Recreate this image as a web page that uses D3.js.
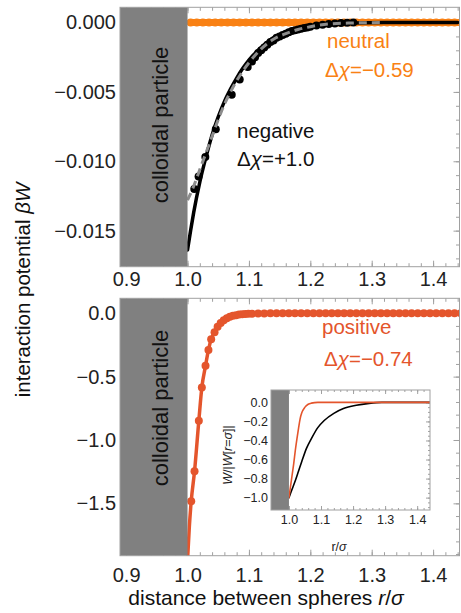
<!DOCTYPE html>
<html>
<head>
<meta charset="utf-8">
<script src="https://cdn.jsdelivr.net/npm/d3@7"></script>
<style>
    body { margin: 0; background: #fff; }
    svg { font-family: "Liberation Sans", Arial, sans-serif; }
</style>
</head>
<body>
<svg id="chart" width="461" height="613"></svg>
<script>
// ---- data ----
const xTicks = [0.9, 1.0, 1.1, 1.2, 1.3, 1.4];
const topYTicks = [0, -0.005, -0.010, -0.015];
const bottomYTicks = [0, -0.5, -1.0, -1.5];
const insetXTicks = [1.0, 1.1, 1.2, 1.3, 1.4];
const insetYTicks = [0, -0.2, -0.4, -0.6, -0.8, -1.0];

// neutral (top, orange dots)
const neutralR = [1.005, 1.015, 1.025, 1.035, 1.045, 1.055, 1.065, 1.075, 1.085, 1.095,
    1.105, 1.115, 1.125, 1.135, 1.145, 1.155, 1.165, 1.175, 1.185, 1.195,
    1.205, 1.215, 1.225, 1.235, 1.245, 1.255, 1.265, 1.275, 1.285, 1.295,
    1.305, 1.315, 1.325, 1.335, 1.345, 1.355, 1.365, 1.375, 1.385, 1.395,
    1.405, 1.415, 1.425, 1.435, 1.445];
const neutralW = [0, 0, 0, 0, 0, 0, 0, 0, 0, 0,
    0, 0, 0, 0, 0, 0, 0, 0, 0, 0,
    0, 0, 0, 0, 0, 0, 0, 0, 0, 0,
    0, 0, 0, 0, 0, 0, 0, 0, 0, 0,
    0, 0, 0, 0, 0];

// negative (top, black): theory line, gray dashed line, simulation dots
const negLineR = [1.0, 1.005, 1.01, 1.02, 1.03, 1.04, 1.05, 1.06, 1.07, 1.08, 1.09, 1.10,
    1.12, 1.14, 1.16, 1.18, 1.20, 1.23, 1.27, 1.32, 1.44];
const negLineW = [-0.0164, -0.0150, -0.0137, -0.0115, -0.0097, -0.0081, -0.0068, -0.0057,
    -0.0048, -0.0040, -0.0033, -0.0027, -0.0018, -0.0011, -0.0007, -0.0004, -0.00025,
    -0.0001, -0.00003, 0, 0];
const negDashR = [1.0, 1.01, 1.02, 1.03, 1.04, 1.05, 1.06, 1.07, 1.08, 1.09, 1.10,
    1.12, 1.14, 1.16, 1.18, 1.20, 1.23, 1.27, 1.32];
const negDashW = [-0.0128, -0.0118, -0.0106, -0.0094, -0.0082, -0.0070, -0.0059, -0.0050,
    -0.0042, -0.0035, -0.0029, -0.0019, -0.0012, -0.0008, -0.0005, -0.0003, -0.0001,
    -0.00003, 0];
const negDotR = [1.011, 1.018, 1.029, 1.046, 1.072, 1.085, 1.098, 1.105, 1.11, 1.115,
    1.12, 1.125, 1.13, 1.135, 1.14, 1.145, 1.15, 1.155, 1.16, 1.165,
    1.17, 1.175, 1.18, 1.185, 1.19, 1.195, 1.20, 1.21, 1.22, 1.23,
    1.24, 1.25, 1.26, 1.27];
const negDotW = [-0.0120, -0.0111, -0.0097, -0.0077, -0.0052, -0.0041, -0.0032, -0.0028,
    -0.0025, -0.0022, -0.0020, -0.0018, -0.0016, -0.0014, -0.0013, -0.0011, -0.0010,
    -0.0009, -0.0008, -0.0007, -0.0006, -0.00055, -0.0005, -0.00045, -0.0004, -0.00035,
    -0.0003, -0.00022, -0.00015, -0.0001, -0.00006, -0.00003, -0.00001, 0];

// positive (bottom, red): line and dots
const posLineR = [1.0, 1.003, 1.006, 1.0114, 1.0184, 1.0233, 1.0293, 1.0341, 1.0385, 1.044,
    1.05, 1.06, 1.07, 1.08, 1.10, 1.12, 1.15, 1.445];
const posLineW = [-1.95, -1.68, -1.483, -1.247, -0.848, -0.586, -0.415, -0.289, -0.205, -0.150,
    -0.100, -0.052, -0.027, -0.014, -0.004, -0.001, 0, 0];
const posDotR = [1.006, 1.0114, 1.0184, 1.0233, 1.0293, 1.0341, 1.0385, 1.044, 1.049, 1.054,
    1.059, 1.064, 1.069, 1.074, 1.079, 1.084, 1.089, 1.094, 1.099, 1.105,
    1.115, 1.125, 1.135, 1.145, 1.155, 1.165, 1.175, 1.185, 1.195, 1.205,
    1.215, 1.225, 1.235, 1.245, 1.255, 1.265, 1.275, 1.285, 1.295, 1.305,
    1.315, 1.325, 1.335, 1.345, 1.355, 1.365, 1.375, 1.385, 1.395, 1.405,
    1.415, 1.425, 1.435, 1.445];
const posDotW = [-1.483, -1.247, -0.848, -0.586, -0.415, -0.289, -0.205, -0.150, -0.107, -0.077,
    -0.055, -0.040, -0.028, -0.020, -0.015, -0.010, -0.008, -0.0055, -0.004, -0.003,
    -0.002, -0.001, 0, 0, 0, 0, 0, 0, 0, 0,
    0, 0, 0, 0, 0, 0, 0, 0, 0, 0,
    0, 0, 0, 0, 0, 0, 0, 0, 0, 0,
    0, 0, 0, 0];

// inset: normalised W/|W(r=sigma)|
const insetPosR = [1.0, 1.005, 1.01, 1.015, 1.02, 1.025, 1.03, 1.035, 1.04, 1.05, 1.06, 1.07, 1.09, 1.44];
const insetPosW = [-1.0, -0.88, -0.76, -0.64, -0.50, -0.38, -0.27, -0.17, -0.11, -0.05, -0.02, -0.008, 0, 0];
const insetNegR = [1.0, 1.01, 1.02, 1.03, 1.04, 1.055, 1.07, 1.09, 1.11, 1.14, 1.17, 1.21, 1.25, 1.29, 1.44];
const insetNegW = [-1.0, -0.91, -0.82, -0.72, -0.62, -0.48, -0.38, -0.265, -0.19, -0.115, -0.065, -0.03, -0.01, 0, 0];

// ---- drawing ----
const svg = d3.select('#chart');
const frameColor = '#a0a0a0';
const particleGray = '#808080';
const orange = '#f98114';
const red = '#e4552c';

function zip(xs, ys) {
    return xs.map((d, i) => [d, ys[i]]);
}

function makePanel(cfg) {
    const x = d3.scaleLinear().domain(cfg.xDomain).range([cfg.left, cfg.right]);
    const y = d3.scaleLinear().domain(cfg.yDomain).range([cfg.top, cfg.bottom]);
    const g = svg.append('g');

    g.append('clipPath').attr('id', cfg.id + 'Clip')
        .append('rect')
        .attr('x', cfg.left).attr('y', cfg.top)
        .attr('width', cfg.right - cfg.left).attr('height', cfg.bottom - cfg.top);

    if (cfg.white) {
        g.append('rect')
            .attr('x', cfg.left).attr('y', cfg.top)
            .attr('width', cfg.right - cfg.left).attr('height', cfg.bottom - cfg.top)
            .attr('fill', '#fff');
    }

    const tickStyle = sel => {
        sel.select('.domain').remove();
        sel.selectAll('line').attr('stroke', frameColor);
        sel.selectAll('text').attr('fill', '#222').attr('font-size', cfg.tickFont);
    };

    // major and minor ticks, pointing inward
    g.append('g').attr('transform', `translate(0,${cfg.bottom})`)
        .call(d3.axisBottom(x).tickValues(cfg.xMinor).tickSize(-cfg.minorLen).tickFormat(''))
        .call(tickStyle);
    g.append('g').attr('transform', `translate(0,${cfg.bottom})`)
        .call(d3.axisBottom(x).tickValues(cfg.xTicks).tickSizeInner(-cfg.majorLen)
            .tickSizeOuter(0).tickPadding(cfg.xPad).tickFormat(d3.format('.1f')))
        .call(tickStyle);
    g.append('g').attr('transform', `translate(0,${cfg.top})`)
        .call(d3.axisTop(x).tickValues(cfg.xMinor).tickSize(-cfg.minorLen).tickFormat(''))
        .call(tickStyle);
    g.append('g').attr('transform', `translate(0,${cfg.top})`)
        .call(d3.axisTop(x).tickValues(cfg.xTicks).tickSize(-cfg.majorLen).tickFormat(''))
        .call(tickStyle);
    g.append('g').attr('transform', `translate(${cfg.right},0)`)
        .call(d3.axisRight(y).tickValues(cfg.yMinor).tickSize(-cfg.minorLen).tickFormat(''))
        .call(tickStyle);
    g.append('g').attr('transform', `translate(${cfg.right},0)`)
        .call(d3.axisRight(y).tickValues(cfg.yTicks).tickSize(-cfg.majorLen).tickFormat(''))
        .call(tickStyle);
    g.append('g').attr('transform', `translate(${cfg.left},0)`)
        .call(d3.axisLeft(y).tickValues(cfg.yTicks).tickSize(0).tickPadding(cfg.yPad)
            .tickFormat(d3.format(cfg.yFormat)))
        .call(tickStyle);

    const plot = g.append('g').attr('clip-path', `url(#${cfg.id}Clip)`);
    return {x, y, g, plot, cfg};
}

function finishPanel(p) {
    const c = p.cfg;
    p.g.append('rect')
        .attr('x', c.left).attr('y', c.top)
        .attr('width', p.x(1.0) - c.left).attr('height', c.bottom - c.top)
        .attr('fill', particleGray);
    p.g.append('rect')
        .attr('x', c.left).attr('y', c.top)
        .attr('width', c.right - c.left).attr('height', c.bottom - c.top)
        .attr('fill', 'none').attr('stroke', frameColor).attr('stroke-width', 1);
}

function drawLine(p, pts, color, width, dash) {
    const line = d3.line().x(d => p.x(d[0])).y(d => p.y(d[1])).curve(d3.curveMonotoneX);
    p.plot.append('path')
        .datum(pts)
        .attr('d', line)
        .attr('fill', 'none')
        .attr('stroke', color)
        .attr('stroke-width', width)
        .attr('stroke-linecap', dash ? 'butt' : 'round')
        .attr('stroke-dasharray', dash || null);
}

function drawDots(p, pts, color, r) {
    p.plot.append('g').selectAll('circle')
        .data(pts)
        .join('circle')
        .attr('cx', d => p.x(d[0]))
        .attr('cy', d => p.y(d[1]))
        .attr('r', r)
        .attr('fill', color);
}

function particleLabel(p, cx, cy) {
    p.g.append('text')
        .attr('transform', `translate(${cx},${cy}) rotate(-90)`)
        .attr('text-anchor', 'middle')
        .attr('font-size', 22)
        .attr('fill', '#111')
        .text('colloidal particle');
}

function deltaChi(x, y, color, value) {
    const t = svg.append('text').attr('x', x).attr('y', y)
        .attr('font-size', 20.5).attr('fill', color);
    t.append('tspan').text('Δ');
    t.append('tspan').attr('font-style', 'italic').text('χ');
    t.append('tspan').text('=' + value);
}

const mainX = [0.89, 1.443];
const mainMinor = d3.range(0.9, 1.45, 0.02);

// top panel
const topPanel = makePanel({
    id: 'topP', left: 120, right: 459.5, top: 7.3, bottom: 266.7,
    xDomain: mainX, yDomain: [0.0011, -0.0176],
    xTicks: xTicks, xMinor: mainMinor,
    yTicks: topYTicks, yMinor: d3.range(0, -0.0176, -0.001),
    yFormat: '.3f', tickFont: 20, xPad: 5, yPad: 4, majorLen: 6, minorLen: 3.5
});
drawLine(topPanel, zip(neutralR, neutralW), orange, 7);
drawDots(topPanel, zip(neutralR, neutralW), orange, 4);
drawLine(topPanel, zip(negLineR, negLineW), '#000', 3.5);
drawDots(topPanel, zip(negDotR, negDotW), '#000', 4);
drawLine(topPanel, zip(negDashR, negDashW), '#8c8c8c', 3, '8,5');
finishPanel(topPanel);
particleLabel(topPanel, 168, 125);

// bottom panel
const bottomPanel = makePanel({
    id: 'bottomP', left: 120, right: 459.5, top: 298.3, bottom: 555.7,
    xDomain: mainX, yDomain: [0.118, -1.913],
    xTicks: xTicks, xMinor: mainMinor,
    yTicks: bottomYTicks, yMinor: d3.range(0, -1.91, -0.1),
    yFormat: '.1f', tickFont: 20, xPad: 12, yPad: 4, majorLen: 6, minorLen: 3.5
});
drawLine(bottomPanel, zip(posLineR, posLineW), red, 3.5);
drawDots(bottomPanel, zip(posDotR, posDotW), red, 4);
finishPanel(bottomPanel);
particleLabel(bottomPanel, 168, 408);

// annotations
svg.append('text').attr('x', 327).attr('y', 48).attr('font-size', 20.5).attr('fill', orange).text('neutral');
deltaChi(325, 76.5, orange, '−0.59');
svg.append('text').attr('x', 237).attr('y', 138).attr('font-size', 20.5).attr('fill', '#111').text('negative');
deltaChi(237, 166, '#111', '+1.0');
svg.append('text').attr('x', 322).attr('y', 334).attr('font-size', 20.5).attr('fill', red).text('positive');
deltaChi(324, 366, red, '−0.74');

// inset
const insetPanel = makePanel({
    id: 'insetP', left: 271, right: 430, top: 390, bottom: 510, white: true,
    xDomain: [0.944, 1.44], yDomain: [0.13, -1.13],
    xTicks: insetXTicks, xMinor: d3.range(1.0, 1.44, 0.02),
    yTicks: insetYTicks, yMinor: d3.range(0, -1.13, -0.05),
    yFormat: '.1f', tickFont: 12.5, xPad: 5, yPad: 3, majorLen: 4, minorLen: 2
});
drawLine(insetPanel, zip(insetNegR, insetNegW), '#000', 1.6);
drawLine(insetPanel, zip(insetPosR, insetPosW), red, 1.6);
finishPanel(insetPanel);

const insetY = svg.append('text')
    .attr('transform', 'translate(232,455) rotate(-90)')
    .attr('text-anchor', 'middle').attr('font-size', 12.5).attr('fill', '#222');
insetY.append('tspan').attr('font-style', 'italic').text('W');
insetY.append('tspan').text('/|');
insetY.append('tspan').attr('font-style', 'italic').text('W');
insetY.append('tspan').text('[');
insetY.append('tspan').attr('font-style', 'italic').text('r');
insetY.append('tspan').text('=');
insetY.append('tspan').attr('font-style', 'italic').text('σ');
insetY.append('tspan').text(']|');

const insetX = svg.append('text').attr('x', 339).attr('y', 551)
    .attr('text-anchor', 'middle').attr('font-size', 12.5).attr('fill', '#222');
insetX.append('tspan').text('r/');
insetX.append('tspan').attr('font-style', 'italic').text('σ');

// axis titles
const yTitle = svg.append('text')
    .attr('transform', 'translate(30,290) rotate(-90)')
    .attr('text-anchor', 'middle').attr('font-size', 20.5).attr('fill', '#111');
yTitle.append('tspan').text('interaction potential ');
yTitle.append('tspan').attr('font-style', 'italic').text('βW');

const xTitle = svg.append('text')
    .attr('x', 266).attr('y', 605)
    .attr('text-anchor', 'middle').attr('font-size', 21).attr('fill', '#111');
xTitle.append('tspan').text('distance between spheres ');
xTitle.append('tspan').attr('font-style', 'italic').text('r');
xTitle.append('tspan').text('/');
xTitle.append('tspan').attr('font-style', 'italic').text('σ');
</script>
</body>
</html>
